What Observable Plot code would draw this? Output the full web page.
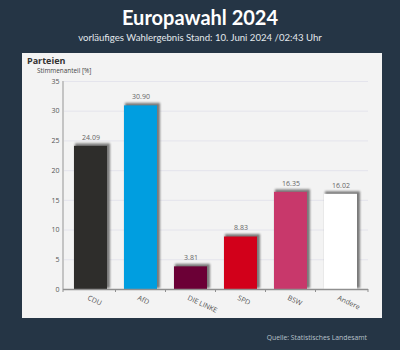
<!DOCTYPE html>
<html><head><meta charset="utf-8">
<script src="https://cdn.jsdelivr.net/npm/d3@7"></script>
<script src="https://cdn.jsdelivr.net/npm/@observablehq/plot@0.6"></script>
<style>
html,body{margin:0;padding:0;background:#253545;}
#wrap{position:relative;width:400px;height:350px;overflow:hidden;font-family:"Open Sans",sans-serif;}
#title{position:absolute;left:0;top:5px;width:400px;text-align:center;color:#fff;font-weight:700;font-size:20px;font-family:Lato,"Open Sans",sans-serif;}
#sub{position:absolute;left:0;top:32px;width:400px;text-align:center;color:#e3e8ec;font-size:9.6px;font-family:Lato,"Open Sans",sans-serif;}
#panel{position:absolute;left:22px;top:53px;width:360px;height:265px;background:#f3f3f3;}
#p1{position:absolute;left:5px;top:1px;font-size:9px;font-weight:700;color:#333;}
#p2{position:absolute;left:15px;top:13px;font-size:6.4px;color:#444;}
#src{position:absolute;right:33px;top:333px;font-size:6.8px;color:#b8c2cc;}
#chart{position:absolute;left:0;top:0;}
</style></head><body>
<div id="wrap">
<div id="title">Europawahl 2024</div>
<div id="sub">vorläufiges Wahlergebnis Stand: 10. Juni 2024 /02:43 Uhr</div>
<div id="panel"><div id="chart"></div><div id="p1">Parteien</div><div id="p2">Stimmenanteil [%]</div></div>
<div id="src">Quelle: Statistisches Landesamt</div>
</div>
<script>
const parties = ["CDU","AfD","DIE LINKE","SPD","BSW","Andere"];
const values = [24.09, 30.90, 3.81, 8.83, 16.35, 16.02];
const colors = ["#2e2d2b","#009ee0","#6b0036","#d2001a","#c8386b","#ffffff"];
const yTicks = [0,5,10,15,20,25,30,35];

const data = parties.map((p,i)=>({party:p, value:values[i], color:colors[i], label:values[i].toFixed(2)}));

// axis frame lines and band-boundary ticks, derived from the plot's own scales/dimensions
function axisFrame(index, scales, values, dims) {
  const g = d3.create("svg:g");
  const x0 = dims.marginLeft, x1 = dims.width - dims.marginRight;
  const yb = dims.height - dims.marginBottom, yt = dims.marginTop;
  g.append("line").attr("x1", x0).attr("x2", x0).attr("y1", yt).attr("y2", yb)
    .attr("stroke", "#c4c4c4").attr("stroke-width", 2);
  const xs = scales.x;
  const bw = xs.bandwidth ? xs.bandwidth() : 0;
  const step = xs(parties[1]) - xs(parties[0]);
  const gap = step - bw;
  const bounds = [x0, ...parties.slice(0, -1).map(p => xs(p) + bw + gap / 2), x1];
  for (const b of bounds) {
    g.append("line").attr("x1", b).attr("x2", b).attr("y1", yb).attr("y2", yb + 3)
      .attr("stroke", "#8f8f8f").attr("stroke-width", 1);
  }
  return g.node();
}

const chart = Plot.plot({
  width:360, height:265,
  marginLeft:41, marginRight:14, marginTop:28, marginBottom:29,
  style:{background:"transparent", fontFamily:"'Open Sans',sans-serif", fontSize:"7px", color:"#555"},
  x:{domain:parties, paddingInner:0.333, paddingOuter:0.157, axis:null},
  y:{domain:[0,35], ticks:yTicks, axis:null},
  marks:[
    Plot.gridY(yTicks.filter(d=>d>0), {stroke:"#e4e4ec", strokeOpacity:1, strokeWidth:1}),
    Plot.axisY({ticks:yTicks, tickSize:0, tickPadding:4, label:null, fontSize:7, fill:"#555"}),
    axisFrame,
    Plot.barY(data, {x:"party", y:"value", fill:"#7a7a7a", dx:2, dy:-1, insetLeft:-1, insetRight:-1, insetTop:-1.5}),
    Plot.barY(data, {x:"party", y:"value", fill:"color"}),
    Plot.ruleY([0], {stroke:"#8f8f8f", strokeWidth:1.5}),
    Plot.text(data, {x:"party", y:"value", text:"label", dy:-9, fill:"#666", fontSize:7}),
    Plot.text(data, {x:"party", text:"party", frameAnchor:"bottom", textAnchor:"start", lineAnchor:"middle", dx:-3, dy:8, rotate:25, fill:"#555", fontSize:7})
  ]
});
const bars = chart.querySelectorAll('g[aria-label="bar"]');
if (bars.length) bars[0].style.filter = "blur(0.8px)";
document.getElementById("chart").appendChild(chart);
</script>
</body></html>
